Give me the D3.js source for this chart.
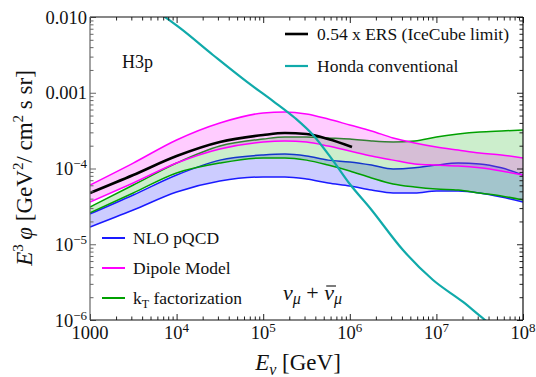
<!DOCTYPE html>
<html><head><meta charset="utf-8">
<script src="https://cdn.jsdelivr.net/npm/d3@7"></script>
<style>
html,body{margin:0;padding:0;background:#fff;}
svg{display:block;font-family:"Liberation Serif","DejaVu Serif",serif;}
svg text{font-family:"Liberation Serif","DejaVu Serif",serif;}
</style></head>
<body>
<svg id="chart" width="536" height="377"></svg>
<script>
// ---- data ----
const energy = [1e3, 3.16e3, 1e4, 3.16e4, 1e5, 1.78e5, 3.16e5, 5.62e5, 1e6, 1.78e6, 3.16e6, 5.62e6, 1e7, 1.78e7, 3.16e7, 5.62e7, 1e8];
const nloUpper = [2.51e-5, 4.47e-5, 8.20e-5, 1.29e-4, 1.51e-4, 1.55e-4, 1.46e-4, 1.29e-4, 1.22e-4, 1.11e-4, 9.84e-5, 1.02e-4, 1.11e-4, 1.18e-4, 1.15e-4, 1.02e-4, 8.20e-5];
const nloLower = [1.69e-5, 2.83e-5, 4.90e-5, 6.84e-5, 7.73e-5, 7.73e-5, 7.26e-5, 6.44e-5, 5.87e-5, 5.20e-5, 4.75e-5, 4.75e-5, 5.05e-5, 5.05e-5, 4.75e-5, 4.21e-5, 3.61e-5];
const dipoleUpper = [6.05e-5, 1.18e-4, 2.38e-4, 3.99e-4, 5.41e-4, 5.57e-4, 5.24e-4, 4.50e-4, 3.75e-4, 3.13e-4, 2.53e-4, 2.17e-4, 1.92e-4, 1.75e-4, 1.60e-4, 1.51e-4, 1.38e-4];
const dipoleLower = [3.61e-5, 6.44e-5, 1.18e-4, 1.81e-4, 2.24e-4, 2.31e-4, 2.24e-4, 1.98e-4, 1.70e-4, 1.46e-4, 1.29e-4, 1.15e-4, 1.11e-4, 1.08e-4, 1.02e-4, 9.27e-5, 8.20e-5];
const ktUpper = [3.10e-5, 6.05e-5, 1.18e-4, 1.98e-4, 2.45e-4, 2.61e-4, 2.61e-4, 2.53e-4, 2.45e-4, 2.31e-4, 2.24e-4, 2.31e-4, 2.61e-4, 2.85e-4, 3.03e-4, 3.13e-4, 3.22e-4];
const ktLower = [2.59e-5, 4.75e-5, 8.73e-5, 1.18e-4, 1.38e-4, 1.38e-4, 1.29e-4, 1.11e-4, 9.27e-5, 7.50e-5, 6.24e-5, 5.70e-5, 5.36e-5, 5.20e-5, 4.75e-5, 4.34e-5, 3.84e-5];
const ersEnergy = [1e3, 3.16e3, 1e4, 3.16e4, 1e5, 1.78e5, 3.16e5, 5.62e5, 1.06e6];
const ersFlux = [4.75e-5, 8.20e-5, 1.46e-4, 2.24e-4, 2.77e-4, 2.94e-4, 2.85e-4, 2.45e-4, 1.92e-4];
const hondaEnergy = [4.93e3, 7.35e3, 1.09e4, 2.63e4, 6.50e4, 1.30e5, 2.33e5, 3.76e5, 6.22e5, 1.00e6, 1.71e6, 4.11e6, 9.14e6, 2.03e7, 3.64e7, 7.08e7];
const hondaFlux = [1.40e-2, 1.00e-2, 7.16e-3, 3.15e-3, 1.39e-3, 7.78e-4, 4.64e-4, 2.77e-4, 1.33e-4, 6.24e-5, 3.01e-5, 8.39e-6, 3.37e-6, 1.73e-6, 1.00e-6, 5.78e-7];
const xMajor = [1e3, 1e4, 1e5, 1e6, 1e7, 1e8];
const xLabelBase = ["1000", "10", "10", "10", "10", "10"];
const xLabelExp = ["", "4", "5", "6", "7", "8"];
const yMajor = [1e-6, 1e-5, 1e-4, 1e-3, 1e-2];
const yLabelBase = ["10", "10", "10", "0.001", "0.010"];
const yLabelExp = ["\u22126", "\u22125", "\u22124", "", ""];
const topLegend = ["0.54 x ERS (IceCube limit)", "Honda conventional"];
const bottomLegend = ["NLO pQCD", "Dipole Model", "k"];

// ---- layout ----
const svg = d3.select("#chart");
const L = 90, R = 523, T = 17, B = 320;
const x = d3.scaleLog().domain([1e3, 1e8]).range([L, R]);
const y = d3.scaleLog().domain([1e-6, 1e-2]).range([B, T]);

svg.append("defs").append("clipPath").attr("id", "clip")
  .append("rect").attr("x", L).attr("y", T).attr("width", R - L).attr("height", B - T);

const plot = svg.append("g").attr("clip-path", "url(#clip)");

function band(upper, lower, fill, stroke) {
  const rows = energy.map((e, i) => ({e, u: upper[i], l: lower[i]}));
  const area = d3.area().curve(d3.curveMonotoneX)
    .x(d => x(d.e)).y0(d => y(d.l)).y1(d => y(d.u));
  plot.append("path").datum(rows).attr("d", area).attr("fill", fill).attr("fill-opacity", 0.2);
  const lu = d3.line().curve(d3.curveMonotoneX).x(d => x(d.e)).y(d => y(d.u));
  const ll = d3.line().curve(d3.curveMonotoneX).x(d => x(d.e)).y(d => y(d.l));
  plot.append("path").datum(rows).attr("d", lu).attr("fill", "none").attr("stroke", stroke).attr("stroke-width", 1.5);
  plot.append("path").datum(rows).attr("d", ll).attr("fill", "none").attr("stroke", stroke).attr("stroke-width", 1.5);
}
band(nloUpper, nloLower, "#0000ff", "#1a1aff");
band(ktUpper, ktLower, "#00aa00", "#00a000");
band(dipoleUpper, dipoleLower, "#ff00ff", "#ff00ff");

const ers = ersEnergy.map((e, i) => ({e, v: ersFlux[i]}));
plot.append("path").datum(ers)
  .attr("d", d3.line().curve(d3.curveMonotoneX).x(d => x(d.e)).y(d => y(d.v)))
  .attr("fill", "none").attr("stroke", "#000").attr("stroke-width", 2.6);

const honda = hondaEnergy.map((e, i) => ({e, v: hondaFlux[i]}));
plot.append("path").datum(honda)
  .attr("d", d3.line().curve(d3.curveMonotoneX).x(d => x(d.e)).y(d => y(d.v)))
  .attr("fill", "none").attr("stroke", "#10aaaa").attr("stroke-width", 2.2);

// ---- axes (inward ticks on all four sides) ----
const minorX = [];
for (let d = 3; d < 8; d++) for (let m = 2; m <= 9; m++) minorX.push(m * Math.pow(10, d));
const minorY = [];
for (let d = -6; d < -2; d++) for (let m = 2; m <= 9; m++) minorY.push(m * Math.pow(10, d));

function styleAxis(g, col) {
  g.select(".domain").remove();
  g.selectAll(".tick line").attr("stroke", col).attr("stroke-width", 1);
  g.selectAll(".tick text").remove();
}
[[d3.axisBottom, B], [d3.axisTop, T]].forEach(([mk, pos]) => {
  svg.append("g").attr("transform", `translate(0,${pos})`)
    .call(mk(x).tickValues(xMajor).tickSize(-6).tickFormat("")).call(g => styleAxis(g, "#222"));
  svg.append("g").attr("transform", `translate(0,${pos})`)
    .call(mk(x).tickValues(minorX).tickSize(-3.5).tickFormat("")).call(g => styleAxis(g, "#222"));
});
[[d3.axisLeft, L, "#666"], [d3.axisRight, R, "#222"]].forEach(([mk, pos, col]) => {
  svg.append("g").attr("transform", `translate(${pos},0)`)
    .call(mk(y).tickValues(yMajor).tickSize(-6).tickFormat("")).call(g => styleAxis(g, col));
  svg.append("g").attr("transform", `translate(${pos},0)`)
    .call(mk(y).tickValues(minorY).tickSize(-3.5).tickFormat("")).call(g => styleAxis(g, col));
});
// frame
svg.append("line").attr("x1", L).attr("x2", R).attr("y1", B).attr("y2", B).attr("stroke", "#111").attr("stroke-width", 1.2);
svg.append("line").attr("x1", L).attr("x2", R).attr("y1", T).attr("y2", T).attr("stroke", "#111").attr("stroke-width", 1.2);
svg.append("line").attr("x1", R).attr("x2", R).attr("y1", T).attr("y2", B).attr("stroke", "#111").attr("stroke-width", 1.2);
svg.append("line").attr("x1", L).attr("x2", L).attr("y1", T).attr("y2", B).attr("stroke", "#666").attr("stroke-width", 1.2);

// tick labels
const xl = svg.append("g").selectAll("text").data(xMajor).join("text")
  .attr("x", d => x(d)).attr("y", 339).attr("text-anchor", "middle")
  .attr("font-size", 18.5).attr("fill", "#111");
xl.append("tspan").text((d, i) => xLabelBase[i]);
xl.append("tspan").attr("font-size", 13).attr("dy", -7).text((d, i) => xLabelExp[i]);

const yl = svg.append("g").selectAll("text").data(yMajor).join("text")
  .attr("x", 87).attr("y", d => y(d) + 6.5).attr("text-anchor", "end")
  .attr("font-size", 18.5).attr("fill", "#111");
yl.append("tspan").text((d, i) => yLabelBase[i]);
yl.append("tspan").attr("font-size", 13).attr("dy", -7).text((d, i) => yLabelExp[i]);

// axis titles
const xt = svg.append("text").attr("x", 298).attr("y", 370).attr("text-anchor", "middle")
  .attr("font-size", 23).attr("fill", "#111");
xt.append("tspan").attr("font-style", "italic").text("E");
xt.append("tspan").attr("font-style", "italic").attr("font-size", 16).attr("dy", 5).text("\u03bd");
xt.append("tspan").attr("dy", -5).text(" [GeV]");

const yt = svg.append("text").attr("transform", "translate(32,168) rotate(-90)")
  .attr("text-anchor", "middle").attr("font-size", 23).attr("fill", "#111");
yt.append("tspan").attr("font-style", "italic").text("E");
yt.append("tspan").attr("font-size", 15).attr("dy", -9).text("3");
yt.append("tspan").attr("font-style", "italic").attr("dy", 9).text("\u2009\u03c6 ");
yt.append("tspan").text("[GeV");
yt.append("tspan").attr("font-size", 15).attr("dy", -9).text("2");
yt.append("tspan").attr("dy", 9).text("/ cm");
yt.append("tspan").attr("font-size", 15).attr("dy", -9).text("2");
yt.append("tspan").attr("dy", 9).text(" s sr]");

// annotations
svg.append("text").attr("x", 122).attr("y", 68).attr("font-size", 18).attr("fill", "#111").text("H3p");

const nu = svg.append("text").attr("x", 283).attr("y", 300).attr("font-size", 22).attr("fill", "#111");
nu.append("tspan").attr("font-style", "italic").text("\u03bd");
nu.append("tspan").attr("font-style", "italic").attr("font-size", 16).attr("dy", 4).text("\u03bc");
nu.append("tspan").attr("dy", -4).text(" + ");
nu.append("tspan").attr("font-style", "italic").text("\u03bd");
nu.append("tspan").attr("font-style", "italic").attr("font-size", 16).attr("dy", 4).text("\u03bc");
// overline on the anti-neutrino, sized from the glyph's measured extent
(function () {
  const node = nu.node();
  const n = node.getNumberOfChars();
  const idx = n - 2;
  const ext = node.getExtentOfChar(idx);
  svg.append("line")
    .attr("x1", ext.x + 2).attr("x2", ext.x + ext.width + 2)
    .attr("y1", 300 - 14).attr("y2", 300 - 14)
    .attr("stroke", "#111").attr("stroke-width", 1.1);
})();

// legends
const topColors = ["#000", "#10aaaa"];
const topW = [2.6, 2.2];
const tg = svg.append("g").selectAll("g").data(topLegend).join("g")
  .attr("transform", (d, i) => `translate(285,${34 + i * 32})`);
tg.append("line").attr("x1", 0).attr("x2", 23).attr("stroke", (d, i) => topColors[i]).attr("stroke-width", (d, i) => topW[i]);
tg.append("text").attr("x", 32).attr("y", 6).attr("font-size", 17.5).attr("fill", "#111").text(d => d);

const botColors = ["#1a1aff", "#ff00ff", "#00a000"];
const bg = svg.append("g").selectAll("g").data(bottomLegend).join("g")
  .attr("transform", (d, i) => `translate(102,${238 + i * 30})`);
bg.append("line").attr("x1", 0).attr("x2", 23).attr("stroke", (d, i) => botColors[i]).attr("stroke-width", 2);
const bt = bg.append("text").attr("x", 31).attr("y", 6).attr("font-size", 17.5).attr("fill", "#111");
bt.append("tspan").text(d => d);
bt.filter((d, i) => i === 2).append("tspan").attr("font-size", 12).attr("dy", 4).text("T");
bt.filter((d, i) => i === 2).append("tspan").attr("dy", -4).text(" factorization");
</script>
</body></html>
